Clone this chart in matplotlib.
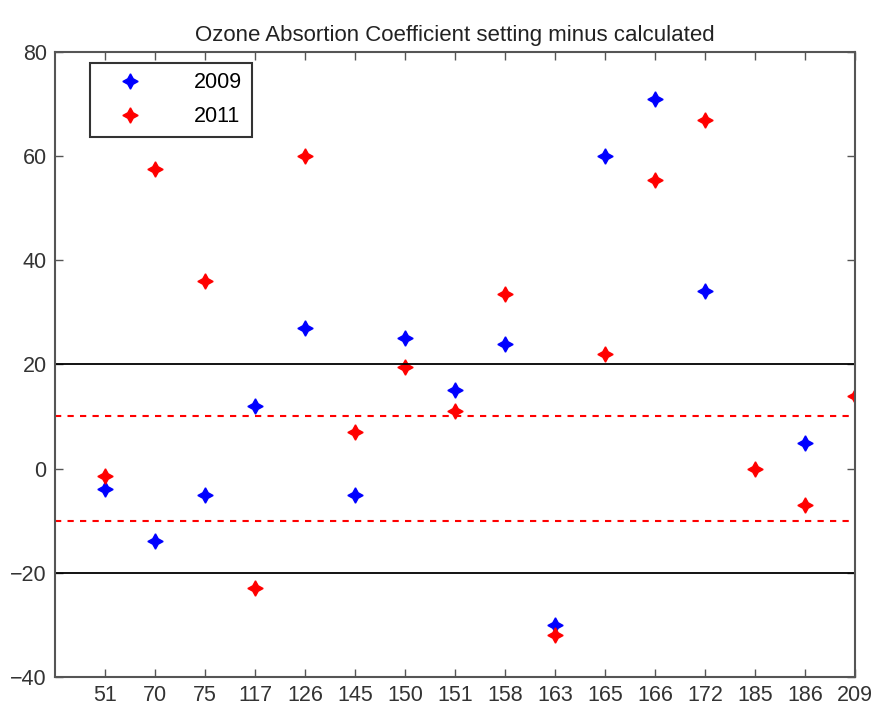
import numpy as np
import matplotlib
matplotlib.use('Agg')
import matplotlib.pyplot as plt

plt.rcParams['font.family'] = ['Liberation Sans', 'DejaVu Sans']

# 数据
sites = ['51', '70', '75', '117', '126', '145', '150', '151', '158',
         '163', '165', '166', '172', '185', '186', '209']
diff_2009 = [-4, -14, -5, 12, 27, -5, 25, 15, 24, -30, 60, 71, 34, np.nan, 5, np.nan]
diff_2011 = [-1.5, 57.5, 36, -23, 60, 7, 19.5, 11, 33.5, -32, 22, 55.5, 67, 0, -7, 14]
limit_outer = 20
limit_inner = 10

fig = plt.figure(figsize=(8.74, 7.11), dpi=100)
ax = fig.add_axes([0.063, 0.048, 0.915, 0.879])

x = np.arange(1, len(sites) + 1)
star = (4, 1, 0)
ax.plot(x, diff_2009, linestyle='none', marker=star, color='blue',
        markersize=11, label='2009')
ax.plot(x, diff_2011, linestyle='none', marker=star, color='red',
        markersize=11, label='2011')

for v in (limit_outer, -limit_outer):
    ax.axhline(v, color='black', linewidth=1.3)
for v in (limit_inner, -limit_inner):
    ax.axhline(v, color='red', linewidth=1.5, linestyle=(0, (3, 3)))

ax.set_xlim(0, len(sites))
ax.set_ylim(-40, 80)
ax.set_xticks(x)
ax.set_xticklabels(sites)
ax.set_yticks(range(-40, 81, 20))
ax.tick_params(direction='in', top=True, right=True, labelsize=15.5,
               length=6, width=1, color='#555555', pad=6,
               labelcolor='#333333')
for s in ax.spines.values():
    s.set_linewidth(1.5)
    s.set_color('#555555')

ax.set_title('Ozone Absortion Coefficient setting minus calculated',
             fontsize=16, pad=8, color='#222222')

leg = ax.legend(loc='upper left', fontsize=15.5, fancybox=False,
                edgecolor='#333333', framealpha=1, borderpad=0.45,
                handletextpad=1.6, markerfirst=True, labelspacing=0.6,
                bbox_to_anchor=(0.03, 1.0), handlelength=2.8)
leg.get_frame().set_linewidth(1.5)

fig.savefig('out.png', dpi=100)
